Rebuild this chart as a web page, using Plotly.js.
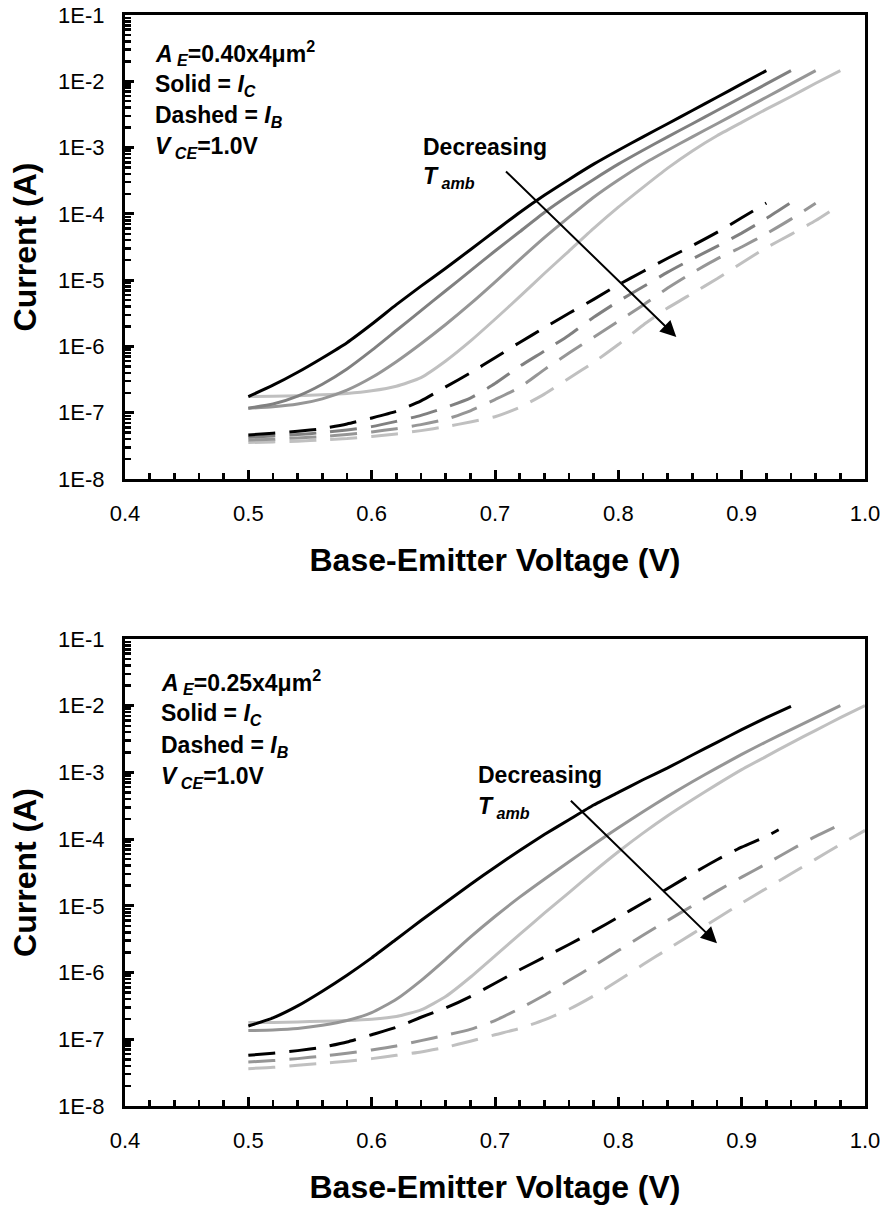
<!DOCTYPE html>
<html>
<head>
<meta charset="utf-8">
<script src="https://cdn.plot.ly/plotly-3.0.1.min.js"></script>
<style>html,body{margin:0;padding:0;background:#fff;}#chart{width:885px;height:1205px;}</style>
</head>
<body>
<div id="chart"></div>
<script>
// Base-emitter voltage grids (V)
const vTop = [0.50,0.52,0.54,0.56,0.58,0.60,0.62,0.64,0.66,0.68,0.70,0.72,0.74,0.76,0.78,0.80,0.82,0.84,0.86,0.88,0.90,0.92,0.94,0.96,0.98];
const vBot = [0.50,0.52,0.54,0.56,0.58,0.60,0.62,0.64,0.66,0.68,0.70,0.72,0.74,0.76,0.78,0.80,0.82,0.84,0.86,0.88,0.90,0.92,0.94,0.96,0.98,1.00];
const vBotIbBlack = [0.50,0.52,0.54,0.56,0.58,0.60,0.62,0.64,0.66,0.68,0.70,0.72,0.74,0.76,0.78,0.80,0.82,0.84,0.86,0.88,0.90,0.92,0.93];

// Top panel (AE = 0.40x4 um^2): collector currents (A), highest to lowest temperature
const icTop1 = [1.75e-7,2.60e-7,4.08e-7,6.71e-7,1.14e-6,2.16e-6,4.27e-6,8.13e-6,1.51e-5,2.88e-5,5.50e-5,1.05e-4,1.91e-4,3.31e-4,5.62e-4,9.12e-4,1.45e-3,2.29e-3,3.63e-3,5.75e-3,9.12e-3,1.45e-2];
const icTop2 = [1.17e-7,1.35e-7,1.78e-7,2.69e-7,4.57e-7,8.71e-7,1.74e-6,3.47e-6,6.92e-6,1.38e-5,2.75e-5,5.37e-5,1.05e-4,1.91e-4,3.31e-4,5.62e-4,9.12e-4,1.45e-3,2.29e-3,3.63e-3,5.75e-3,9.12e-3,1.45e-2];
const icTop3 = [1.17e-7,1.23e-7,1.35e-7,1.62e-7,2.19e-7,3.39e-7,5.89e-7,1.10e-6,2.14e-6,4.37e-6,9.33e-6,2.04e-5,4.37e-5,8.91e-5,1.78e-4,3.24e-4,5.62e-4,9.12e-4,1.45e-3,2.29e-3,3.63e-3,5.75e-3,9.12e-3,1.45e-2];
const icTop4 = [1.75e-7,1.77e-7,1.80e-7,1.86e-7,1.95e-7,2.14e-7,2.51e-7,3.39e-7,6.03e-7,1.20e-6,2.57e-6,5.62e-6,1.26e-5,2.75e-5,6.03e-5,1.26e-4,2.51e-4,4.90e-4,8.91e-4,1.51e-3,2.40e-3,3.80e-3,5.89e-3,9.33e-3,1.45e-2];
// Top panel base currents (A)
const ibTop1 = [4.62e-8,4.90e-8,5.25e-8,5.75e-8,6.76e-8,8.32e-8,1.05e-7,1.51e-7,2.45e-7,3.98e-7,6.76e-7,1.15e-6,1.91e-6,3.16e-6,5.13e-6,8.51e-6,1.35e-5,2.14e-5,3.31e-5,5.25e-5,8.71e-5,1.45e-4];
const ibTop2 = [4.27e-8,4.47e-8,4.68e-8,5.01e-8,5.50e-8,6.17e-8,7.41e-8,9.12e-8,1.20e-7,1.66e-7,2.75e-7,5.01e-7,8.51e-7,1.48e-6,2.75e-6,4.79e-6,7.94e-6,1.32e-5,2.09e-5,3.24e-5,5.13e-5,8.51e-5,1.48e-4];
const ibTop3 = [3.89e-8,3.98e-8,4.17e-8,4.37e-8,4.68e-8,5.13e-8,5.75e-8,6.61e-8,7.94e-8,1.07e-7,1.58e-7,2.40e-7,4.47e-7,7.94e-7,1.38e-6,2.40e-6,4.17e-6,7.59e-6,1.29e-5,2.09e-5,3.16e-5,5.01e-5,8.32e-5,1.45e-4];
const ibTop4 = [3.55e-8,3.63e-8,3.72e-8,3.89e-8,4.07e-8,4.37e-8,4.79e-8,5.37e-8,6.17e-8,7.24e-8,8.71e-8,1.20e-7,1.91e-7,3.31e-7,5.75e-7,1.07e-6,2.09e-6,3.80e-6,6.31e-6,1.05e-5,1.82e-5,3.09e-5,4.90e-5,7.94e-5,1.38e-4];

// Bottom panel (AE = 0.25x4 um^2): collector currents (A)
const icBot1 = [1.58e-7,2.09e-7,3.16e-7,5.25e-7,9.12e-7,1.66e-6,3.16e-6,6.03e-6,1.12e-5,2.09e-5,3.80e-5,6.76e-5,1.17e-4,1.95e-4,3.24e-4,5.01e-4,7.76e-4,1.17e-3,1.82e-3,2.82e-3,4.37e-3,6.61e-3,9.77e-3];
const icBot2 = [1.35e-7,1.38e-7,1.45e-7,1.62e-7,1.91e-7,2.51e-7,3.98e-7,7.59e-7,1.58e-6,3.39e-6,6.92e-6,1.35e-5,2.51e-5,4.57e-5,8.32e-5,1.48e-4,2.57e-4,4.37e-4,7.24e-4,1.17e-3,1.86e-3,2.88e-3,4.37e-3,6.61e-3,1.00e-2];
const icBot3 = [1.78e-7,1.78e-7,1.82e-7,1.86e-7,1.91e-7,2.00e-7,2.19e-7,2.75e-7,4.37e-7,8.51e-7,1.78e-6,3.72e-6,7.76e-6,1.58e-5,3.24e-5,6.46e-5,1.23e-4,2.24e-4,3.89e-4,6.61e-4,1.10e-3,1.74e-3,2.75e-3,4.27e-3,6.61e-3,1.00e-2];
// Bottom panel base currents (A)
const ibBot1 = [5.75e-8,6.17e-8,6.76e-8,7.59e-8,9.12e-8,1.17e-7,1.51e-7,2.14e-7,2.95e-7,4.37e-7,6.92e-7,1.10e-6,1.70e-6,2.63e-6,4.17e-6,6.76e-6,1.10e-5,1.82e-5,3.02e-5,4.90e-5,7.59e-5,1.10e-4,1.38e-4];
const ibBot2 = [4.57e-8,4.79e-8,5.13e-8,5.62e-8,6.17e-8,6.92e-8,7.94e-8,9.55e-8,1.15e-7,1.41e-7,1.91e-7,2.88e-7,4.57e-7,7.59e-7,1.26e-6,2.14e-6,3.63e-6,6.03e-6,1.00e-5,1.66e-5,2.69e-5,4.27e-5,6.92e-5,1.10e-4,1.66e-4];
const ibBot3 = [3.63e-8,3.80e-8,4.07e-8,4.37e-8,4.68e-8,5.13e-8,5.75e-8,6.46e-8,7.59e-8,9.33e-8,1.17e-7,1.45e-7,1.95e-7,2.82e-7,4.47e-7,7.59e-7,1.32e-6,2.24e-6,3.80e-6,6.46e-6,1.10e-5,1.82e-5,3.02e-5,5.01e-5,8.32e-5,1.35e-4];

// Tick labels
const yTickVals = [1e-8,1e-7,1e-6,1e-5,1e-4,1e-3,1e-2,1e-1];
const yTickText = ['1E-8','1E-7','1E-6','1E-5','1E-4','1E-3','1E-2','1E-1'];

const topColors = ['#000000','#808080','#969696','#c0c0c0'];
const botColors = ['#000000','#969696','#c0c0c0'];
const DASH = '27px,14px';

function tr(x, y, color, dashed, xa, ya) {
  return {
    x: x.slice(0, y.length), y: y, type: 'scatter', mode: 'lines',
    xaxis: xa, yaxis: ya, hoverinfo: 'skip',
    line: {color: color, width: 3, dash: dashed ? DASH : 'solid', shape: 'spline', smoothing: 0.5}
  };
}

const traces = [
  tr(vTop, ibTop4, topColors[3], true, 'x', 'y'),
  tr(vTop, ibTop3, topColors[2], true, 'x', 'y'),
  tr(vTop, ibTop2, topColors[1], true, 'x', 'y'),
  tr(vTop, ibTop1, topColors[0], true, 'x', 'y'),
  tr(vTop, icTop4, topColors[3], false, 'x', 'y'),
  tr(vTop, icTop3, topColors[2], false, 'x', 'y'),
  tr(vTop, icTop2, topColors[1], false, 'x', 'y'),
  tr(vTop, icTop1, topColors[0], false, 'x', 'y'),
  tr(vBot, ibBot3, botColors[2], true, 'x2', 'y2'),
  tr(vBot, ibBot2, botColors[1], true, 'x2', 'y2'),
  tr(vBotIbBlack, ibBot1, botColors[0], true, 'x2', 'y2'),
  tr(vBot, icBot3, botColors[2], false, 'x2', 'y2'),
  tr(vBot, icBot2, botColors[1], false, 'x2', 'y2'),
  tr(vBot, icBot1, botColors[0], false, 'x2', 'y2'),
  // empty carriers so the minor-tick overlay axes are drawn
  {x: [], y: [], type: 'scatter', mode: 'lines', xaxis: 'x', yaxis: 'y3', hoverinfo: 'skip', showlegend: false},
  {x: [], y: [], type: 'scatter', mode: 'lines', xaxis: 'x2', yaxis: 'y4', hoverinfo: 'skip', showlegend: false}
];

const FONT = 'Arial, "Liberation Sans", sans-serif';
const minorY = [];
for (let d = -8; d <= -2; d++) for (let k = 2; k <= 9; k++) minorY.push(k * Math.pow(10, d));

function xAxis(anchor) {
  return {
    anchor: anchor, domain: [0, 1], range: [0.4, 1.0], tick0: 0.4, dtick: 0.1, tickformat: '.1f',
    ticks: 'inside', ticklen: 9, tickwidth: 3, tickcolor: '#000',
    minor: {dtick: 0.02, ticks: 'inside', ticklen: 6, tickwidth: 2.5, tickcolor: '#000', showgrid: false},
    showline: true, linewidth: 3, linecolor: '#000', mirror: true,
    showgrid: false, zeroline: false, automargin: false,
    tickfont: {family: FONT, size: 22, color: '#000'}, ticklabelstandoff: 13,
    title: {text: '<b>Base-Emitter Voltage (V)</b>', font: {family: FONT, size: 32, color: '#000'}, standoff: 24}
  };
}
function yAxis(anchor, domain) {
  return {
    anchor: anchor, domain: domain, type: 'log', range: [-8, -1],
    tickmode: 'array', tickvals: yTickVals, ticktext: yTickText,
    ticks: 'inside', ticklen: 9, tickwidth: 3, tickcolor: '#000',
    showline: true, linewidth: 3, linecolor: '#000', mirror: true,
    showgrid: false, zeroline: false, automargin: false,
    tickfont: {family: FONT, size: 22, color: '#000'}, ticklabelstandoff: 13,
    title: {text: '<b>Current (A)</b>', font: {family: FONT, size: 32, color: '#000'}, standoff: 12}
  };
}
function yMinor(overlay) {
  return {
    overlaying: overlay, side: 'left', type: 'log', range: [-8, -1],
    tickmode: 'array', tickvals: minorY, ticks: 'inside', ticklen: 6, tickwidth: 2.5, tickcolor: '#000',
    showticklabels: false, showline: false, showgrid: false, zeroline: false, automargin: false
  };
}

function note(text, x, y, xref, yref) {
  return {text: text, x: x, y: y, xref: xref, yref: yref, xanchor: 'left', yanchor: 'middle',
    showarrow: false, font: {family: FONT, size: 23, color: '#000'}};
}
function arrow(x, y, ax, ay, xref, yref) {
  return {text: '', x: x, y: y, ax: ax, ay: ay, xref: xref, yref: yref, axref: xref, ayref: yref,
    showarrow: true, arrowhead: 2, arrowsize: 1.6, arrowwidth: 2, arrowcolor: '#000', standoff: 0, startstandoff: 0};
}

const annotations = [
  note('<b><i>A</i><sub><i> E</i></sub>=0.40x4μm<sup>2</sup></b>', 0.4227, -1.573, 'x', 'y'),
  note('<b>Solid = <i>I</i><sub><i>C</i></sub></b>', 0.4227, -2.056, 'x', 'y'),
  note('<b>Dashed = <i>I</i><sub><i>B</i></sub></b>', 0.4227, -2.538, 'x', 'y'),
  note('<b><i>V</i><sub><i> CE</i></sub>=1.0V</b>', 0.4227, -3.006, 'x', 'y'),
  note('<b>Decreasing</b>', 0.6402, -2.986, 'x', 'y'),
  note('<b><i>T</i><sub><i> amb</i></sub></b>', 0.6402, -3.45, 'x', 'y'),
  arrow(0.847, -5.857, 0.7077, -3.338, 'x', 'y'),
  note('<b><i>A</i><sub><i> E</i></sub>=0.25x4μm<sup>2</sup></b>', 0.4275, -1.64, 'x2', 'y2'),
  note('<b>Solid = <i>I</i><sub><i>C</i></sub></b>', 0.4275, -2.139, 'x2', 'y2'),
  note('<b>Dashed = <i>I</i><sub><i>B</i></sub></b>', 0.4275, -2.614, 'x2', 'y2'),
  note('<b><i>V</i><sub><i> CE</i></sub>=1.0V</b>', 0.4275, -3.084, 'x2', 'y2'),
  note('<b>Decreasing</b>', 0.6842, -3.039, 'x2', 'y2'),
  note('<b><i>T</i><sub><i> amb</i></sub></b>', 0.6842, -3.52, 'x2', 'y2'),
  arrow(0.880, -5.561, 0.7603, -3.403, 'x2', 'y2')
];

const layout = {
  width: 885, height: 1205,
  margin: {l: 125, r: 20, t: 15, b: 99},
  paper_bgcolor: '#ffffff', plot_bgcolor: '#ffffff',
  showlegend: false,
  font: {family: FONT, color: '#000'},
  xaxis: xAxis('y'),
  yaxis: yAxis('x', [0.5747, 1]),
  xaxis2: xAxis('y2'),
  yaxis2: yAxis('x2', [0, 0.4281]),
  yaxis3: yMinor('y'),
  yaxis4: yMinor('y2'),
  annotations: annotations
};

Plotly.newPlot('chart', traces, layout, {displayModeBar: false, staticPlot: true});
</script>
</body>
</html>
